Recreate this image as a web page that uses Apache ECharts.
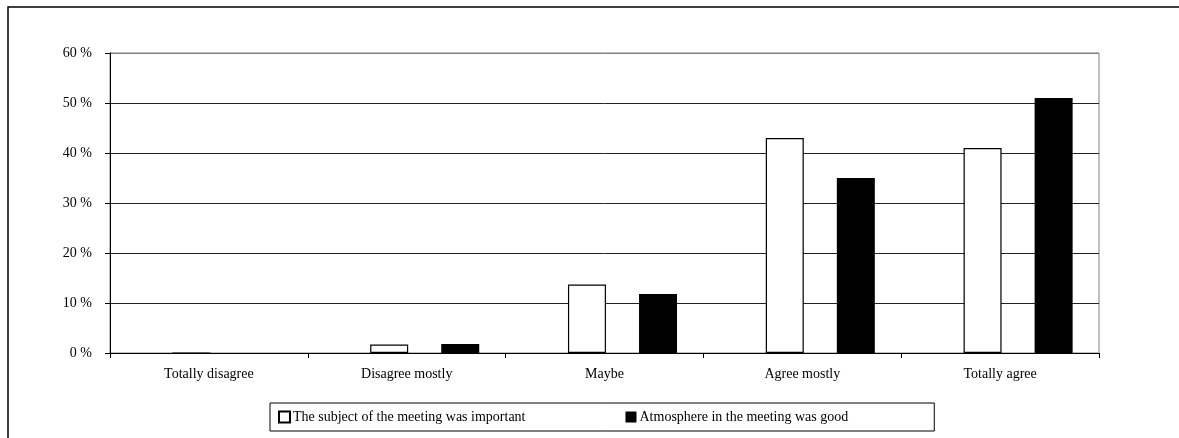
<!DOCTYPE html>
<html>
<head>
<meta charset="utf-8">
<script src="https://cdn.jsdelivr.net/npm/echarts@6/dist/echarts.min.js"></script>
<style>
  html, body { margin: 0; padding: 0; background: #fff; }
  #chart { width: 1179px; height: 438px; }
</style>
</head>
<body>
<div id="chart"></div>
<script>
var categories = ['Totally disagree', 'Disagree mostly', 'Maybe', 'Agree mostly', 'Totally agree']
var subjectImportant = [0, 1.7, 13.7, 43, 41]
var atmosphereGood = [0, 1.8, 11.8, 35, 51]
var seriesNames = ['The subject of the meeting was important', 'Atmosphere in the meeting was good']
var yTicks = [0, 10, 20, 30, 40, 50, 60]

var font = 'Liberation Serif, Times New Roman, serif'
var chart = echarts.init(document.getElementById('chart'))

// grid 0 holds the axes, grid 1 (shifted right) holds the bars, like the Excel original
var option = {
  animation: false,
  backgroundColor: '#fff',
  textStyle: { fontFamily: font, color: '#000' },
  graphic: [
    {
      type: 'rect',
      shape: { x: 8, y: 7, width: 1300, height: 600 },
      style: { fill: 'none', stroke: '#000', lineWidth: 1.5 },
      silent: true
    }
  ],
  grid: [
    { left: 110, top: 53, width: 989, height: 300, show: true, borderColor: '#808080', borderWidth: 1, backgroundColor: '#fff' },
    { left: 128, top: 53, width: 989, height: 300 }
  ],
  legend: {
    data: seriesNames,
    left: 270,
    top: 403,
    padding: [7, 86, 7, 8],
    itemGap: 100,
    itemWidth: 11,
    itemHeight: 11,
    borderColor: '#000',
    borderWidth: 1,
    icon: 'rect',
    textStyle: { fontFamily: font, fontSize: 14, color: '#000', padding: [0, 0, 0, -2] }
  },
  xAxis: [
    {
      type: 'category',
      gridIndex: 0,
      data: categories,
      axisLine: { lineStyle: { color: '#000', width: 1 } },
      axisTick: { show: true, length: 5, lineStyle: { color: '#000' } },
      axisLabel: { fontFamily: font, fontSize: 14, color: '#000', margin: 14 }
    },
    {
      type: 'category',
      gridIndex: 1,
      data: categories,
      show: false
    }
  ],
  yAxis: [
    {
      type: 'value',
      gridIndex: 0,
      min: yTicks[0],
      max: yTicks[yTicks.length - 1],
      interval: 10,
      axisLine: { show: true, lineStyle: { color: '#000', width: 1 } },
      axisTick: { show: true, length: 5, lineStyle: { color: '#000' } },
      axisLabel: { fontFamily: font, fontSize: 14, color: '#000', margin: 18, formatter: '{value} %' },
      splitLine: {
        show: true,
        lineStyle: { color: ['#000', '#222', '#222', '#222', '#222', '#222', '#808080'], width: 1 }
      }
    },
    {
      type: 'value',
      gridIndex: 1,
      min: yTicks[0],
      max: yTicks[yTicks.length - 1],
      show: false,
      splitLine: { show: false }
    }
  ],
  series: [
    {
      name: seriesNames[0],
      type: 'bar',
      xAxisIndex: 1,
      yAxisIndex: 1,
      data: subjectImportant,
      barWidth: 38,
      barGap: '87%',
      itemStyle: { color: '#fff', borderColor: '#000', borderWidth: 1.2 }
    },
    {
      name: seriesNames[1],
      type: 'bar',
      xAxisIndex: 1,
      yAxisIndex: 1,
      data: atmosphereGood,
      barWidth: 38,
      barGap: '87%',
      itemStyle: { color: '#000', borderColor: '#000', borderWidth: 0 }
    }
  ]
}
chart.setOption(option)
</script>
</body>
</html>
